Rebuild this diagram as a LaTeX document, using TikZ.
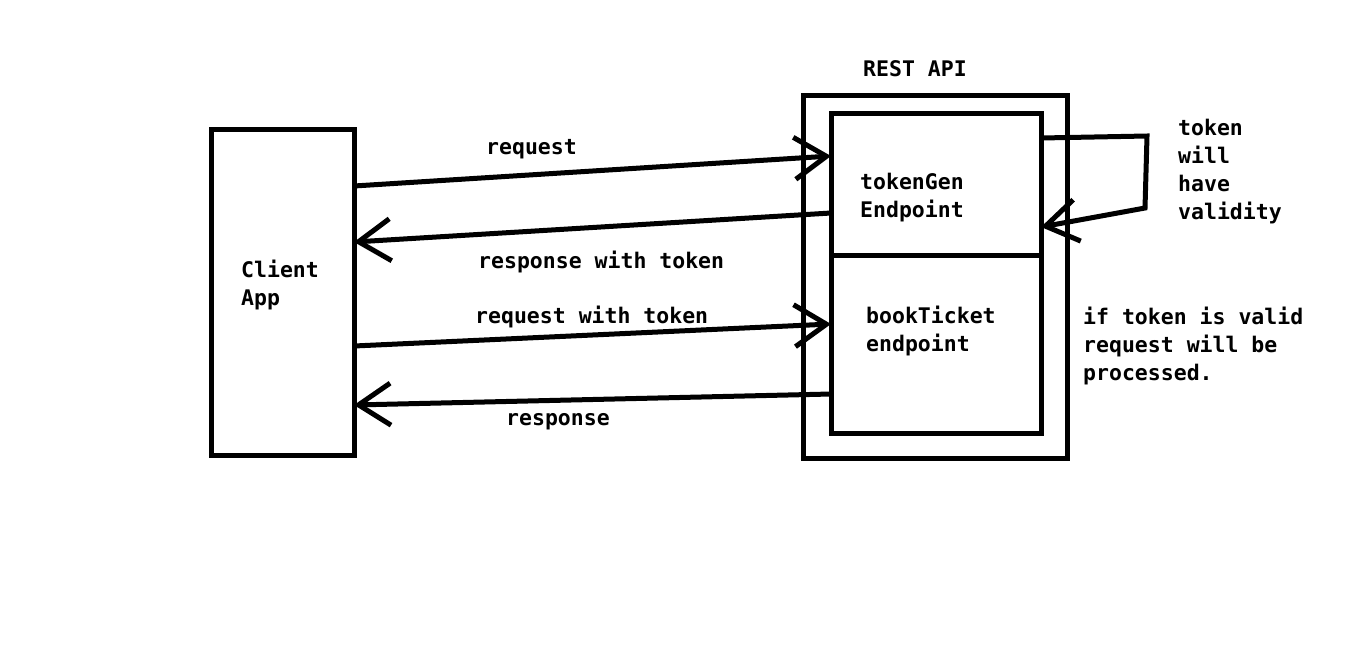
\documentclass[tikz,border=0pt]{standalone}
\usepackage{fontspec}
\newfontfamily\sketchfont{DejaVu Sans Mono}
\usetikzlibrary{arrows.meta,positioning}
\tikzset{
  box/.style={draw, line width=5pt, inner sep=0pt, outer sep=0pt},
  flow/.style={line width=5pt, -{Straight Barb[length=32pt,width=42pt]}},
  lbl/.style={font=\sketchfont\bfseries\fontsize{21.5}{28}\selectfont, inner sep=0pt, align=left, anchor=base west}
}
\begin{document}
\begin{tikzpicture}[x=1pt, y=-1pt]
        \useasboundingbox (0,0) rectangle (1359,654);
        % Client and REST API boxes
        \node[box, minimum width=143pt, minimum height=326pt] (client) at (282.5,292) {};
        \node[box, minimum width=264pt, minimum height=363pt] (restapi) at (935,276.5) {};
        \node[box, minimum width=210pt, minimum height=142pt] (tokengen) at (936,184) {};
        \node[box, minimum width=210pt, minimum height=178pt] (bookticket) at (936,344) {};
        \node[lbl] at (863,76) {REST API};
        \node[lbl] at (241,305) {Client\\App};
        \node[lbl] at (860,217) {tokenGen\\Endpoint};
        \node[lbl] at (866,351) {bookTicket\\endpoint};
        % Calls between client and endpoints
        \draw[flow] ([yshift=106pt]client.east) -- ([yshift=28pt]tokengen.west);
        \draw[flow] ([yshift=-29pt]tokengen.west) -- ([yshift=50pt]client.east);
        \draw[flow] ([yshift=-54pt]client.east) -- ([yshift=20pt]bookticket.west);
        \draw[flow] ([yshift=-50pt]bookticket.west) -- ([yshift=-113pt]client.east);
        \node[lbl] at (486,154) {request};
        \node[lbl] at (478,268) {response with token};
        \node[lbl] at (475,323) {request with token};
        \node[lbl] at (506,425) {response};
        % Token validity loop
        \coordinate (loopa) at (1147,136);
        \coordinate (loopb) at (1145,208);
        \draw[flow] ([yshift=46pt]tokengen.east) -- (loopa) -- (loopb) -- ([yshift=-43pt]tokengen.east);
        \node[lbl] at (1178,219) {token\\will\\have\\validity};
        \node[lbl] at (1083,380) {if token is valid\\request will be\\processed.};
    \end{tikzpicture}
\end{document}
